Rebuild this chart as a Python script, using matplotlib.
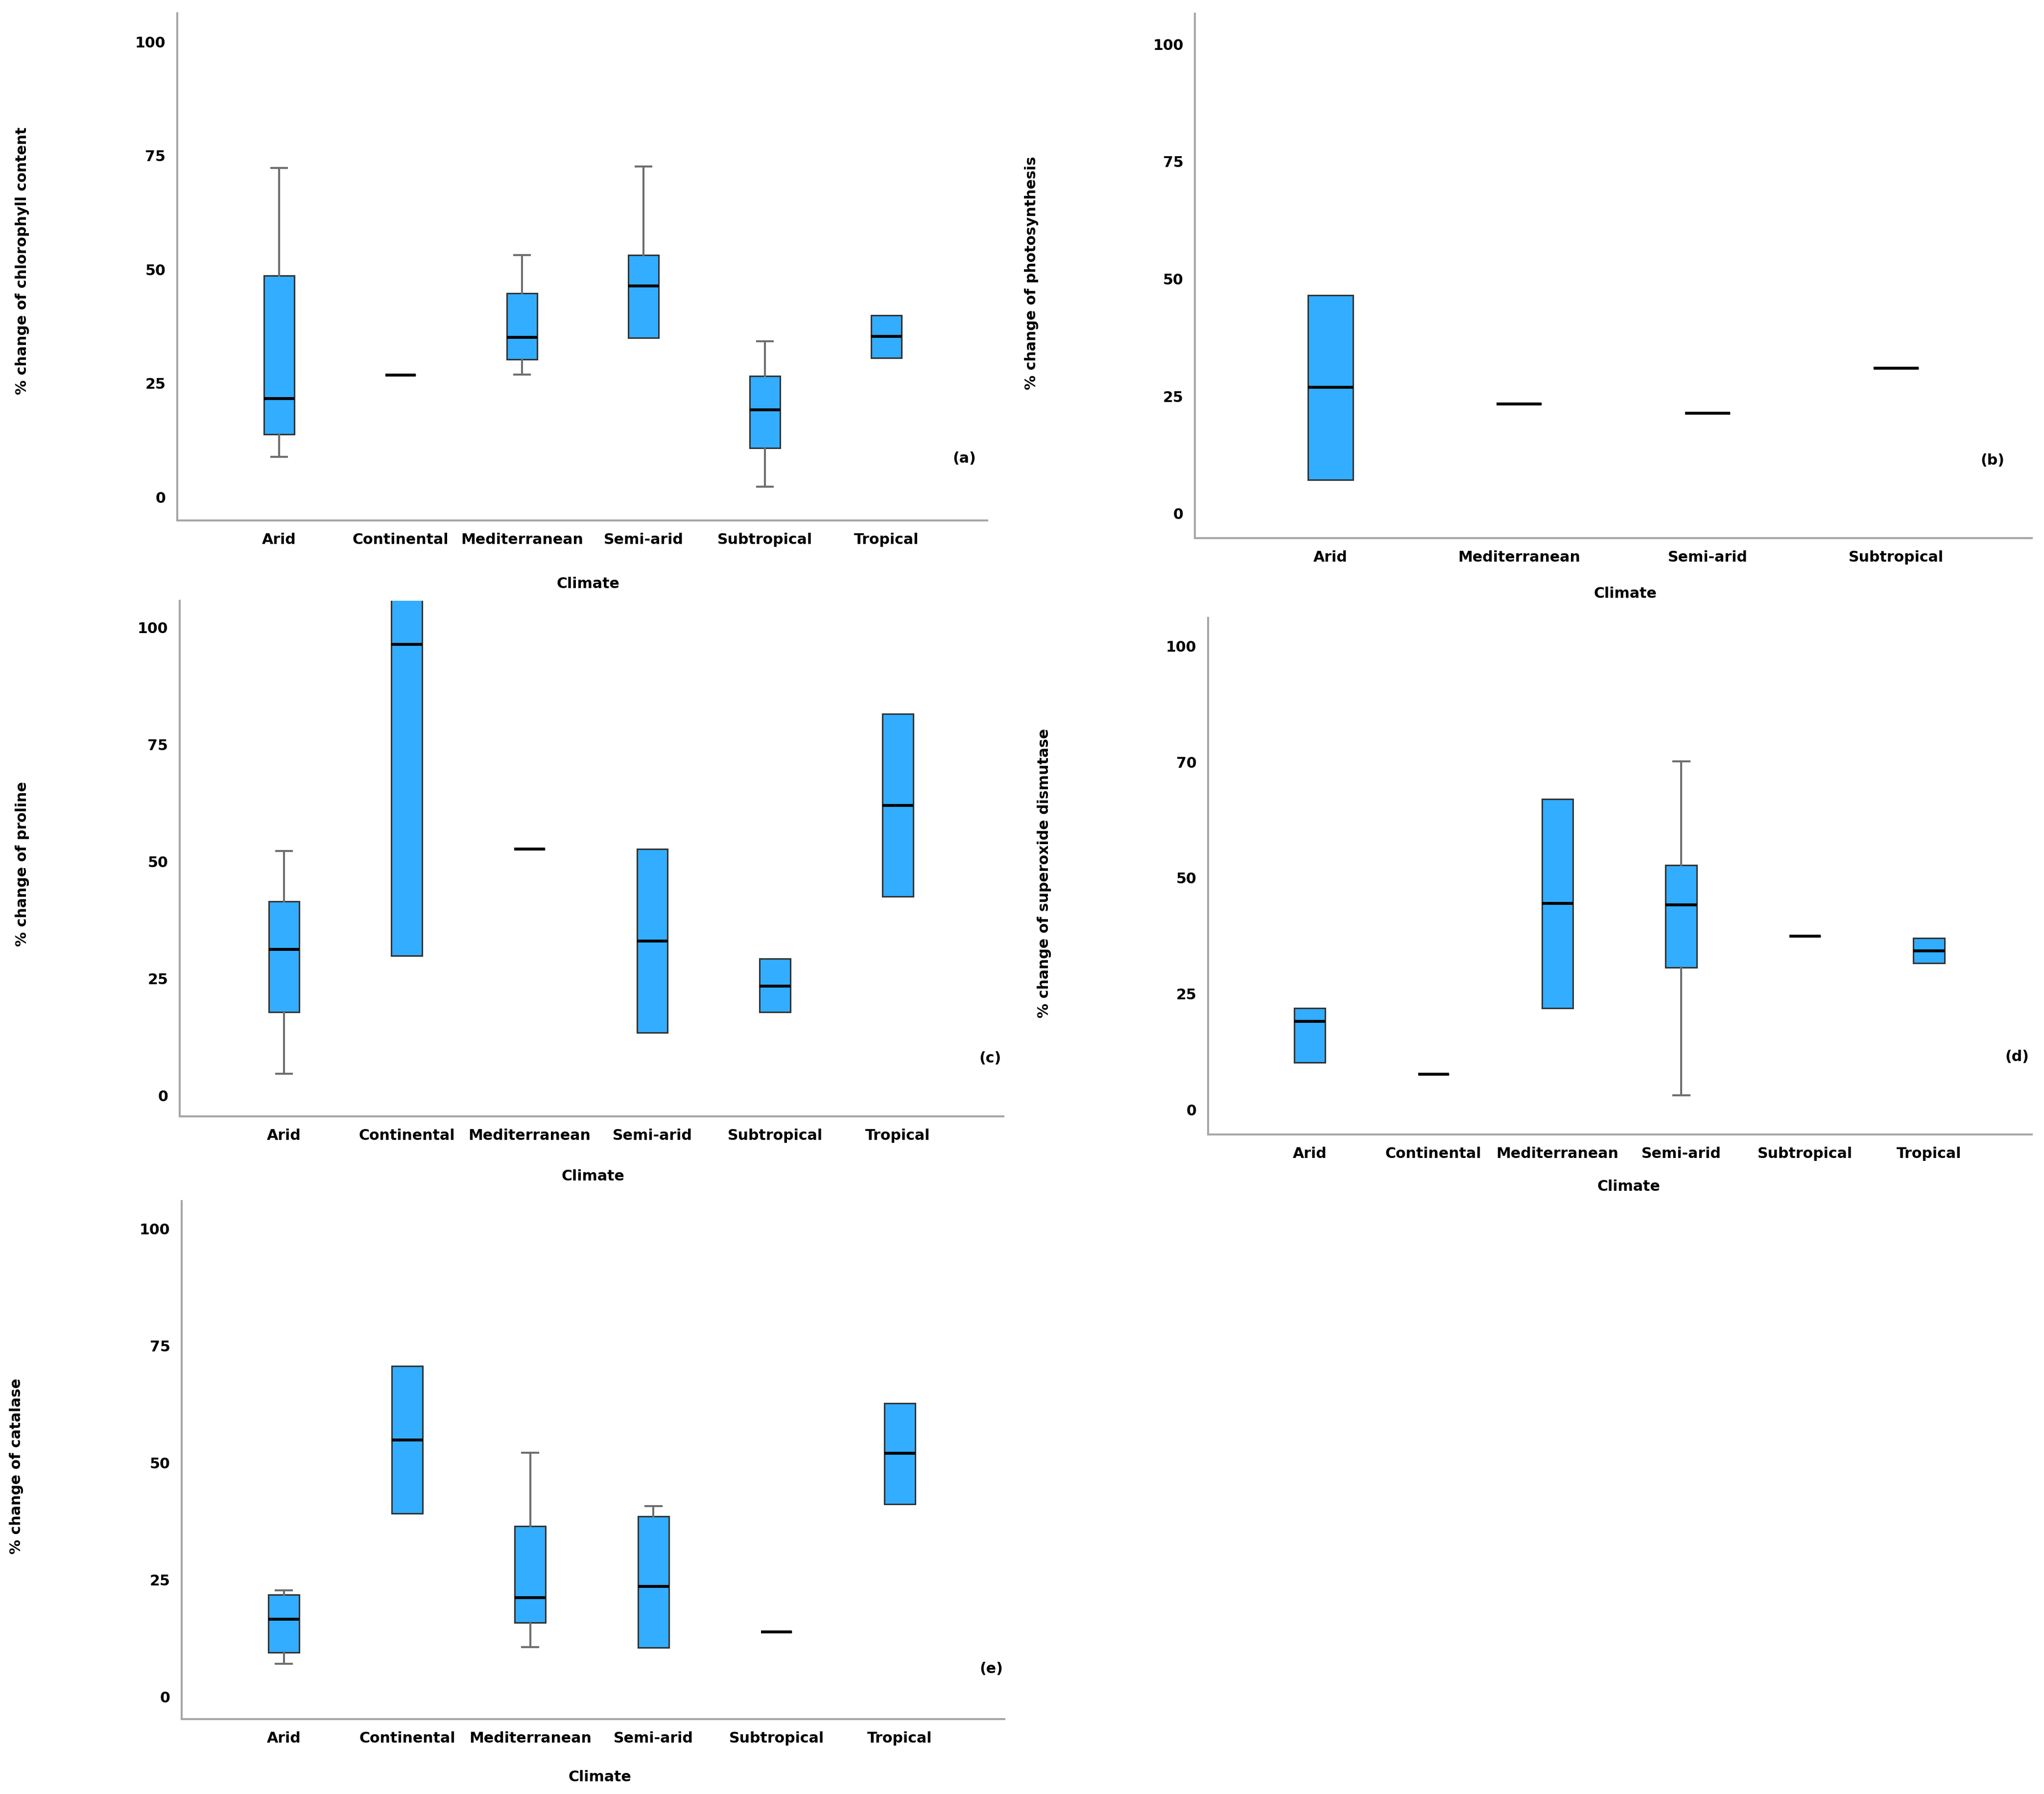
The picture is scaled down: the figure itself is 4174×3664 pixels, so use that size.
import matplotlib
matplotlib.use('Agg')
import matplotlib.pyplot as plt

plt.rcParams['font.family'] = ['DejaVu Sans']
plt.rcParams['font.weight'] = 'bold'

### Values (% change)
climates_a = ['Arid', 'Continental', 'Mediterranean', 'Semi-arid', 'Subtropical', 'Tropical']
low_a = [8.9, 26.8, 26.9, 35.0, 2.3, 30.6]
q1_a = [13.8, 26.8, 30.3, 35.0, 10.8, 30.6]
med_a = [21.7, 26.8, 35.1, 46.4, 19.2, 35.3]
q3_a = [48.6, 26.8, 44.8, 53.2, 26.6, 39.9]
high_a = [72.3, 26.8, 53.2, 72.6, 34.2, 39.9]

climates_b = ['Arid', 'Mediterranean', 'Semi-arid', 'Subtropical']
low_b = [7.2, 23.4, 21.4, 31.0]
q1_b = [7.2, 23.4, 21.4, 31.0]
med_b = [26.9, 23.4, 21.4, 31.0]
q3_b = [46.5, 23.4, 21.4, 31.0]
high_b = [46.5, 23.4, 21.4, 31.0]

climates_c = ['Arid', 'Continental', 'Mediterranean', 'Semi-arid', 'Subtropical', 'Tropical']
low_c = [4.6, 29.8, 52.6, 13.4, 17.8, 42.5]
q1_c = [17.8, 29.8, 52.6, 13.4, 17.8, 42.5]
med_c = [31.2, 96.4, 52.6, 33.0, 23.4, 62.0]
q3_c = [41.5, 106.0, 52.6, 52.6, 29.2, 81.5]
high_c = [52.2, 106.0, 52.6, 52.6, 29.2, 81.5]

climates_d = ['Arid', 'Continental', 'Mediterranean', 'Semi-arid', 'Subtropical', 'Tropical']
low_d = [10.2, 7.6, 21.9, 3.1, 37.4, 31.6]
q1_d = [10.2, 7.6, 21.9, 30.7, 37.4, 31.6]
med_d = [19.0, 7.6, 44.5, 44.2, 37.4, 34.3]
q3_d = [21.9, 7.6, 67.0, 52.8, 37.4, 37.0]
high_d = [21.9, 7.6, 67.0, 75.2, 37.4, 37.0]

climates_e = ['Arid', 'Continental', 'Mediterranean', 'Semi-arid', 'Subtropical', 'Tropical']
low_e = [7.1, 39.2, 10.6, 10.5, 13.9, 41.2]
q1_e = [9.5, 39.2, 15.9, 10.5, 13.9, 41.2]
med_e = [16.6, 54.9, 21.2, 23.6, 13.9, 52.0]
q3_e = [21.8, 70.6, 36.5, 38.6, 13.9, 62.7]
high_e = [22.8, 70.6, 52.1, 40.7, 13.9, 62.7]

ytick_vals = [0, 25, 50, 75, 100]
ytick_labels = ['0', '25', '50', '75', '100']
ytick_labels_d = ['0', '25', '50', '70', '100']   # as printed in panel (d)

fill = '#33adff'
fs = 21.6

fig = plt.figure(figsize=(41.74, 36.64), dpi=100)

panels = [
    # rect, climates, stats, ylabel, tag, ylim, xlim, tag pos, xlabel pos, ylabel pos, yticklabels
    ([0.0867, 0.7099, 0.3963, 0.2828], climates_a, (low_a, q1_a, med_a, q3_a, high_a),
     '% change of chlorophyll content', '(a)', (-5.1, 106.3), (-0.84, 5.83),
     (0.972, 0.122), (0.507, -0.125), (-0.191, 0.512), ytick_labels),
    ([0.5846, 0.7001, 0.4094, 0.2923], climates_b, (low_b, q1_b, med_b, q3_b, high_b),
     '% change of photosynthesis', '(b)', (-5.2, 106.5), (-0.72, 3.72),
     (0.953, 0.148), (0.514, -0.106), (-0.195, 0.505), ytick_labels),
    ([0.0879, 0.3777, 0.4030, 0.2874], climates_c, (low_c, q1_c, med_c, q3_c, high_c),
     '% change of proline', '(c)', (-4.5, 105.7), (-0.85, 5.86),
     (0.984, 0.113), (0.502, -0.116), (-0.191, 0.49), ytick_labels),
    ([0.5910, 0.3676, 0.4030, 0.2879], climates_d, (low_d, q1_d, med_d, q3_d, high_d),
     '% change of superoxide dismutase', '(d)', (-5.4, 106.1), (-0.82, 5.83),
     (0.982, 0.150), (0.511, -0.101), (-0.199, 0.506), ytick_labels_d),
    ([0.0889, 0.0418, 0.4025, 0.2888], climates_e, (low_e, q1_e, med_e, q3_e, high_e),
     '% change of catalase', '(e)', (-4.7, 105.9), (-0.83, 5.85),
     (0.984, 0.097), (0.508, -0.112), (-0.201, 0.488), ytick_labels),
]

for rect, cats, st, ylab, tag, ylim, xlim, tagpos, xlpos, ylpos, ytl in panels:
    ax = fig.add_axes(rect)
    lo, q1, med, q3, hi = st
    stats = []
    for i in range(len(cats)):
        stats.append(dict(whislo=lo[i], q1=q1[i], med=med[i], q3=q3[i], whishi=hi[i],
                          fliers=[], label=cats[i]))
    pos = list(range(len(cats)))
    w = 0.24 if len(cats) == 4 else 0.25
    res = ax.bxp(stats, positions=pos, widths=w, capwidths=0.13, patch_artist=True,
                 showfliers=False,
                 boxprops=dict(facecolor=fill, edgecolor='#333333', linewidth=2.2),
                 medianprops=dict(color='black', linewidth=4.3),
                 whiskerprops=dict(color='#6e6e6e', linewidth=2.9),
                 capprops=dict(color='#6e6e6e', linewidth=2.9))
    # hide caps where there is no whisker
    for i in range(len(cats)):
        if lo[i] >= q1[i]:
            res['caps'][2 * i].set_visible(False)
        if hi[i] <= q3[i]:
            res['caps'][2 * i + 1].set_visible(False)

    ax.set_xlim(*xlim)
    ax.set_ylim(*ylim)
    ax.set_yticks(ytick_vals)
    ax.set_yticklabels(ytl)
    ax.set_xticks(pos)
    ax.set_xticklabels(cats)
    ax.tick_params(axis='both', length=0, labelsize=fs)
    ax.tick_params(axis='y', pad=17)
    ax.tick_params(axis='x', pad=18)
    for s in ['top', 'right']:
        ax.spines[s].set_visible(False)
    for s in ['left', 'bottom']:
        ax.spines[s].set_color('#a6a6a6')
        ax.spines[s].set_linewidth(2.9)

    ax.set_xlabel('Climate', fontsize=fs, fontweight='bold')
    ax.xaxis.set_label_coords(*xlpos)
    ax.xaxis.label.set_va('center')
    ax.set_ylabel(ylab, fontsize=fs, fontweight='bold')
    ax.yaxis.set_label_coords(*ylpos)
    ax.yaxis.label.set_va('center')

    ax.text(tagpos[0], tagpos[1], tag, transform=ax.transAxes, fontsize=fs,
            fontweight='bold', ha='center', va='center')

fig.savefig('out.png', dpi=100, facecolor='white')
